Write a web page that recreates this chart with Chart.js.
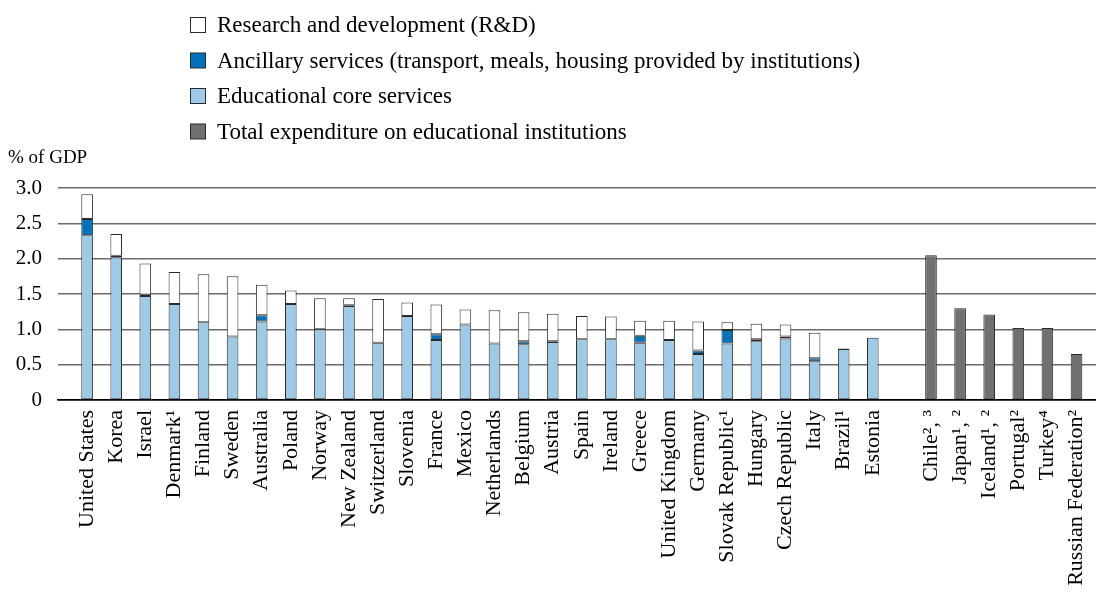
<!DOCTYPE html>
<html>
<head>
<meta charset="utf-8">
<script src="https://cdn.jsdelivr.net/npm/chart.js@4.4.1/dist/chart.umd.min.js"></script>
<style>
  body { margin: 0; background: #fff; }
</style>
</head>
<body>
<canvas id="gasto" width="1096" height="597"></canvas>
<script>
// paises (index 28 queda vacio para separar el segundo grupo)
const paises = ['United States', 'Korea', 'Israel', 'Denmark¹', 'Finland', 'Sweden', 'Australia', 'Poland',
    'Norway', 'New Zealand', 'Switzerland', 'Slovenia', 'France', 'Mexico', 'Netherlands', 'Belgium',
    'Austria', 'Spain', 'Ireland', 'Greece', 'United Kingdom', 'Germany', 'Slovak Republic¹', 'Hungary',
    'Czech Republic', 'Italy', 'Brazil¹', 'Estonia', '',
    'Chile², ³', 'Japan¹, ²', 'Iceland¹, ²', 'Portugal²', 'Turkey⁴', 'Russian Federation²'];

const serviciosCore = [2.33, 2.02, 1.47, 1.36, 1.10, 0.90, 1.11, 1.36, 1.00, 1.33, 0.81, 1.19, 0.85, 1.07,
    0.80, 0.79, 0.82, 0.86, 0.86, 0.81, 0.85, 0.65, 0.80, 0.83, 0.87, 0.55, 0.72, 0.88];
const serviciosAnc = [0.23, 0.02, 0.02, 0, 0, 0, 0.09, 0, 0, 0.01, 0, 0, 0.08, 0,
    0, 0.04, 0.01, 0, 0, 0.10, 0, 0.05, 0.19, 0.03, 0.03, 0.04, 0.01, 0];
const investigacion = [0.35, 0.31, 0.44, 0.45, 0.68, 0.85, 0.43, 0.19, 0.44, 0.10, 0.62, 0.19, 0.42, 0.21,
    0.47, 0.41, 0.39, 0.33, 0.32, 0.21, 0.27, 0.41, 0.11, 0.22, 0.17, 0.36, 0, 0];
const totalInst = [2.05, 1.30, 1.21, 1.02, 1.02, 0.65];

const yTicks = [0, 0.5, 1.0, 1.5, 2.0, 2.5, 3.0];

const fuente = 'Liberation Serif';

function puntos(valores, desde) {
    var out = [];
    for (var i = 0; i < valores.length; i++) {
        out.push({ x: desde + i, y: valores[i] });
    }
    return out;
}

const colores = {
    rd: '#ffffff',
    anc: '#0072bb',
    core: '#9dcae6',
    total: '#6f7072'
};

const dataGasto = {
    datasets: [
        { label: 'Educational core services', data: puntos(serviciosCore, 0), backgroundColor: colores.core },
        { label: 'Ancillary services (transport, meals, housing provided by institutions)', data: puntos(serviciosAnc, 0), backgroundColor: colores.anc },
        { label: 'Research and development (R&D)', data: puntos(investigacion, 0), backgroundColor: colores.rd },
        { label: 'Total expenditure on educational institutions', data: puntos(totalInst, 29), backgroundColor: colores.total }
    ]
};
dataGasto.datasets.forEach(function (d) {
    d.borderColor = '#2b2b2b';
    d.borderWidth = 1;
    d.borderSkipped = false;
    d.barPercentage = 0.4;
    d.categoryPercentage = 1;
});

// leyenda vertical y etiqueta del eje
const leyenda = {
    id: 'leyenda',
    afterDraw: function (chart) {
        const ctx = chart.ctx;
        const orden = [2, 1, 0, 3];
        ctx.save();
        ctx.font = '23px "' + fuente + '"';
        ctx.textBaseline = 'alphabetic';
        ctx.fillStyle = '#000';
        for (var i = 0; i < orden.length; i++) {
            const ds = chart.data.datasets[orden[i]];
            const y = 17 + i * 35.5;
            ctx.fillStyle = ds.backgroundColor;
            ctx.fillRect(190.5, y + 0.5, 15, 15);
            ctx.strokeStyle = '#2b2b2b';
            ctx.lineWidth = 1;
            ctx.strokeRect(190.5, y + 0.5, 15, 15);
            ctx.fillStyle = '#000';
            ctx.fillText(ds.label, 217, y + 15);
        }
        ctx.font = '19px "' + fuente + '"';
        ctx.fillText('% of GDP', 8, 163);
        ctx.restore();
    }
};

const configGasto = {
    type: 'bar',
    data: dataGasto,
    options: {
        responsive: false,
        animation: false,
        layout: { padding: { top: 188, left: 0, right: 0, bottom: 0 } },
        plugins: {
            legend: { display: false },
            tooltip: { enabled: false }
        },
        scales: {
            x: {
                type: 'linear',
                stacked: true,
                offset: false,
                min: -1,
                max: 34.67,
                grid: { display: false, drawTicks: false },
                border: { color: '#000', width: 1.5 },
                afterFit: function (scale) {
                    scale.height = 197;
                    scale.paddingLeft = 0;
                    scale.paddingRight = 0;
                },
                ticks: {
                    stepSize: 1,
                    autoSkip: false,
                    includeBounds: false,
                    minRotation: 90,
                    maxRotation: 90,
                    padding: 10,
                    color: '#000',
                    font: { family: fuente, size: 22 },
                    callback: function (v) {
                        if (Number.isInteger(v) && v >= 0 && v < paises.length) return paises[v];
                        return '';
                    }
                }
            },
            y: {
                stacked: true,
                min: 0,
                max: 3,
                afterFit: function (scale) { scale.width = 58; },
                afterBuildTicks: function (scale) {
                    scale.ticks = yTicks.map(function (v) { return { value: v }; });
                },
                grid: {
                    drawTicks: false,
                    color: function (c) { return c.tick.value === 0 ? '#000' : '#6b6b6b'; },
                    lineWidth: 1.5
                },
                border: { display: false },
                ticks: {
                    padding: 16,
                    color: '#000',
                    font: { family: fuente, size: 21 },
                    callback: function (v) { return v === 0 ? '0' : v.toFixed(1); }
                }
            }
        }
    },
    plugins: [leyenda]
};

const chartGasto = new Chart(document.getElementById('gasto'), configGasto);
</script>
</body>
</html>
